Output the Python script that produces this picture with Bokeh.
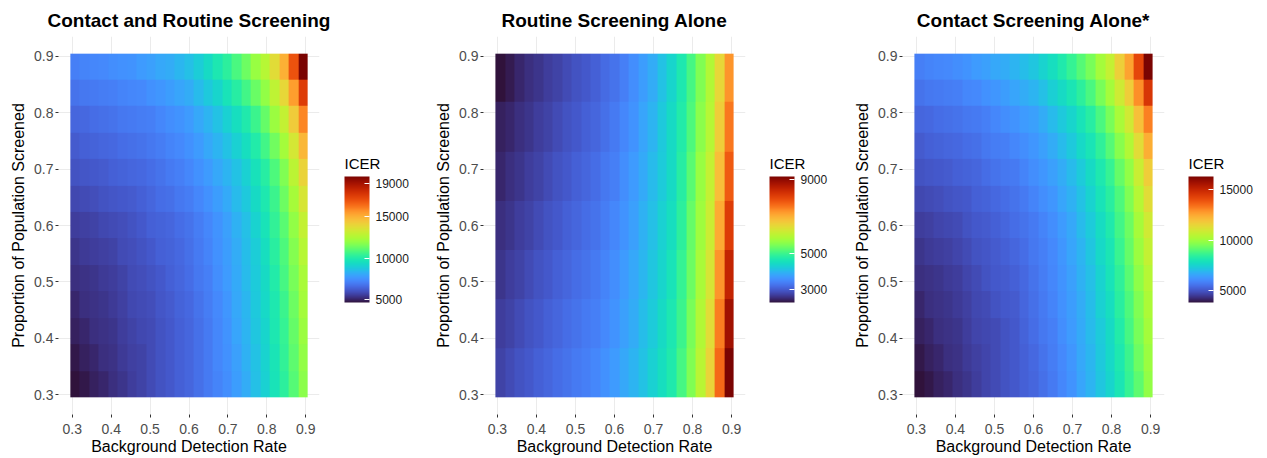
import numpy as np
from bokeh.plotting import figure
from bokeh.layouts import row
from bokeh.models import LinearColorMapper, ColorBar, FixedTicker, Range1d
from bokeh.palettes import Turbo256
from bokeh.embed import file_html
from bokeh.resources import INLINE

# ---- data ----
# background detection rate: 0.300, 0.325, ... 0.900 (25 columns)
detection_rate = [0.300, 0.325, 0.350, 0.375, 0.400, 0.425, 0.450, 0.475, 0.500, 0.525, 0.550, 0.575,
                  0.600, 0.625, 0.650, 0.675, 0.700, 0.725, 0.750, 0.775, 0.800, 0.825, 0.850, 0.875, 0.900]
prop_screened_fine = [0.30, 0.35, 0.40, 0.45, 0.50, 0.55, 0.60, 0.65, 0.70, 0.75, 0.80, 0.85, 0.90]
prop_screened_coarse = [0.3, 0.4, 0.5, 0.6, 0.7, 0.8, 0.9]
axis_ticks = [0.3, 0.4, 0.5, 0.6, 0.7, 0.8, 0.9]

titles = ["Contact and Routine Screening", "Routine Screening Alone", "Contact Screening Alone*"]
legend_title = "ICER"

# ICER values; one list per proportion screened (lowest first)
icer_contact_routine = [
    [4600, 4750, 4910, 5060, 5210, 5370, 5520, 5670, 5820, 5980, 6130, 6280, 6440, 6670, 6900, 7120, 7350, 7740, 8120, 8580, 9040, 9650, 10260, 10950, 11790],
    [4750, 4910, 5060, 5210, 5290, 5440, 5590, 5670, 5820, 5980, 6130, 6280, 6440, 6670, 6900, 7200, 7430, 7810, 8200, 8650, 9110, 9730, 10340, 11100, 11940],
    [4910, 5060, 5210, 5290, 5370, 5520, 5670, 5750, 5820, 5980, 6130, 6280, 6440, 6670, 6900, 7200, 7510, 7890, 8270, 8730, 9190, 9800, 10410, 11180, 12100],
    [5060, 5210, 5290, 5370, 5440, 5590, 5750, 5820, 5900, 6050, 6210, 6360, 6510, 6740, 6970, 7280, 7580, 7970, 8350, 8810, 9270, 9880, 10570, 11330, 12250],
    [5210, 5290, 5370, 5440, 5520, 5670, 5820, 5900, 5980, 6130, 6280, 6440, 6590, 6820, 7050, 7350, 7660, 8040, 8430, 8880, 9340, 10030, 10720, 11490, 12400],
    [5370, 5440, 5520, 5590, 5670, 5820, 5900, 5980, 6130, 6280, 6360, 6510, 6670, 6900, 7120, 7430, 7740, 8120, 8500, 8960, 9500, 10180, 10870, 11710, 12710],
    [5520, 5590, 5670, 5750, 5820, 5900, 5980, 6130, 6280, 6360, 6440, 6590, 6740, 6970, 7200, 7510, 7810, 8200, 8580, 9110, 9650, 10340, 11030, 11940, 13020],
    [5750, 5820, 5900, 5980, 6050, 6130, 6210, 6280, 6440, 6590, 6670, 6820, 6970, 7200, 7430, 7740, 8040, 8430, 8810, 9340, 9880, 10570, 11330, 12330, 13470],
    [5980, 6050, 6130, 6210, 6280, 6360, 6440, 6510, 6590, 6740, 6900, 7050, 7200, 7430, 7660, 7970, 8270, 8650, 9040, 9570, 10110, 10870, 11640, 12790, 14090],
    [6210, 6280, 6360, 6440, 6510, 6590, 6670, 6740, 6820, 6970, 7120, 7280, 7430, 7660, 7970, 8270, 8650, 9040, 9500, 10030, 10640, 11410, 12250, 13400, 14850],
    [6440, 6510, 6590, 6670, 6740, 6820, 6900, 6970, 7050, 7200, 7350, 7510, 7660, 7970, 8270, 8650, 9040, 9500, 9960, 10570, 11180, 12100, 13020, 14320, 15920],
    [6740, 6820, 6900, 6970, 7050, 7120, 7200, 7280, 7430, 7580, 7740, 7890, 8120, 8430, 8810, 9190, 9650, 10110, 10640, 11260, 11940, 12860, 13930, 15460, 17610],
    [7050, 7120, 7200, 7280, 7350, 7430, 7510, 7660, 7810, 7970, 8120, 8350, 8580, 8960, 9340, 9800, 10260, 10800, 11330, 12020, 12710, 13780, 15000, 16990, 19900],
]
icer_routine = [
    [2780, 2850, 2920, 2990, 3060, 3130, 3190, 3260, 3330, 3400, 3470, 3570, 3680, 3810, 3950, 4120, 4300, 4500, 4710, 5050, 5460, 5980, 6570, 7670, 9180],
    [2710, 2780, 2850, 2920, 2990, 3060, 3130, 3190, 3260, 3330, 3400, 3500, 3610, 3740, 3880, 4050, 4230, 4430, 4640, 4980, 5400, 5880, 6430, 7460, 8840],
    [2640, 2710, 2780, 2850, 2920, 2990, 3060, 3130, 3190, 3260, 3330, 3440, 3540, 3680, 3810, 3990, 4160, 4360, 4570, 4910, 5330, 5810, 6290, 7250, 8490],
    [2580, 2640, 2710, 2780, 2850, 2920, 2990, 3060, 3130, 3190, 3260, 3370, 3470, 3610, 3740, 3920, 4090, 4300, 4500, 4850, 5260, 5710, 6150, 7050, 8150],
    [2510, 2580, 2640, 2710, 2780, 2850, 2920, 2990, 3060, 3130, 3190, 3300, 3400, 3540, 3680, 3850, 4020, 4230, 4430, 4780, 5190, 5640, 6080, 6840, 7800],
    [2440, 2510, 2580, 2640, 2710, 2780, 2850, 2920, 2990, 3060, 3130, 3230, 3330, 3470, 3610, 3780, 3950, 4190, 4430, 4740, 5120, 5530, 5950, 6630, 7530],
    [2300, 2400, 2510, 2580, 2640, 2710, 2780, 2850, 2920, 2990, 3060, 3160, 3260, 3400, 3540, 3710, 3880, 4120, 4360, 4670, 5050, 5460, 5880, 6500, 7250],
]
icer_contact = [
    [3810, 3940, 4060, 4190, 4310, 4440, 4560, 4690, 4810, 4940, 5060, 5190, 5310, 5500, 5690, 5940, 6190, 6500, 6810, 7190, 7560, 8060, 8560, 9130, 9810],
    [3940, 4060, 4190, 4310, 4370, 4500, 4620, 4690, 4810, 4940, 5060, 5190, 5370, 5560, 5750, 6000, 6250, 6560, 6870, 7250, 7630, 8130, 8690, 9310, 9940],
    [4060, 4190, 4310, 4370, 4440, 4560, 4690, 4750, 4810, 4940, 5060, 5250, 5440, 5620, 5810, 6060, 6310, 6620, 6940, 7310, 7690, 8250, 8810, 9440, 10070],
    [4190, 4310, 4370, 4440, 4500, 4620, 4750, 4810, 4940, 5060, 5120, 5310, 5500, 5690, 5870, 6120, 6370, 6690, 7000, 7440, 7810, 8380, 8940, 9560, 10250],
    [4310, 4370, 4440, 4500, 4560, 4690, 4810, 4940, 5060, 5120, 5190, 5370, 5560, 5750, 5940, 6190, 6440, 6750, 7060, 7500, 7940, 8500, 9060, 9750, 10440],
    [4440, 4500, 4560, 4620, 4690, 4810, 4940, 5000, 5120, 5190, 5310, 5440, 5620, 5810, 6000, 6250, 6500, 6810, 7190, 7630, 8060, 8630, 9190, 9940, 10690],
    [4560, 4620, 4690, 4750, 4810, 4940, 5060, 5120, 5190, 5310, 5440, 5560, 5690, 5870, 6060, 6310, 6560, 6940, 7310, 7750, 8190, 8750, 9310, 10130, 10940],
    [4750, 4810, 4870, 4940, 5000, 5060, 5190, 5250, 5370, 5440, 5560, 5690, 5870, 6060, 6250, 6500, 6750, 7120, 7500, 7940, 8380, 8940, 9560, 10440, 11320],
    [4940, 5000, 5060, 5120, 5190, 5250, 5310, 5440, 5560, 5620, 5690, 5870, 6060, 6250, 6440, 6690, 6940, 7310, 7690, 8130, 8560, 9190, 9810, 10750, 11690],
    [5120, 5190, 5250, 5310, 5370, 5440, 5500, 5620, 5750, 5810, 5940, 6060, 6250, 6440, 6690, 6940, 7250, 7630, 8000, 8500, 9000, 9630, 10320, 11320, 12380],
    [5310, 5370, 5440, 5500, 5560, 5620, 5690, 5810, 5940, 6060, 6190, 6310, 6440, 6690, 6940, 7250, 7560, 7940, 8310, 8880, 9440, 10190, 10940, 12000, 13190],
    [5560, 5620, 5690, 5750, 5810, 5940, 6000, 6120, 6250, 6370, 6500, 6690, 6810, 7060, 7380, 7690, 8060, 8440, 8880, 9440, 10070, 10880, 11690, 12940, 14570],
    [5810, 5870, 5940, 6000, 6060, 6190, 6310, 6440, 6560, 6690, 6810, 7000, 7190, 7500, 7810, 8190, 8560, 9000, 9440, 10070, 10690, 11630, 12570, 14190, 16320],
]
colorbar_ticks = [
    [5000, 10000, 15000, 19000],
    [3000, 5000, 9000],
    [5000, 10000, 15000],
]

FONT = "Liberation Sans"
layout_cfg = [  # (min_border_left, frame_width, min_border_right, bar_gap)
    (58, 261, 105, 25),
    (59, 262, 96, 24),
    (61, 262, 94, 24),
]
FRAME_H = 378
BAR_BOTTOM = 112  # px above the panel's bottom edge
BAR_H = 126

def make_panel(title, grid, ys, cticks, cfg):
    left, fw, right, gap = cfg
    z = np.array(grid, dtype=float)
    x0 = detection_rate[0] - 0.005
    x1 = detection_rate[-1] + 0.005
    y0 = ys[0] - 0.005
    y1 = ys[-1] + 0.005
    pad = (x1 - x0) * 0.05
    p = figure(frame_width=fw, frame_height=FRAME_H,
               min_border_left=left, min_border_right=right,
               min_border_top=36, min_border_bottom=38,
               x_range=Range1d(x0 - pad, x1 + pad), y_range=Range1d(y0 - pad, y1 + pad),
               output_backend="svg", toolbar_location=None, title=title)
    mapper = LinearColorMapper(palette=Turbo256, low=float(z.min()), high=float(z.max()))
    p.image(image=[z], x=x0, y=y0, dw=x1 - x0, dh=y1 - y0, color_mapper=mapper)

    p.title.text_font = FONT
    p.title.text_font_size = "19px"
    p.title.text_font_style = "bold"
    p.title.align = "center"
    p.title.text_color = "black"
    p.title.standoff = 12

    p.xaxis.axis_label = "Background Detection Rate"
    p.yaxis.axis_label = "Proportion of Population Screened"
    for ax in (p.xaxis, p.yaxis):
        ax.ticker = FixedTicker(ticks=axis_ticks)
        ax.axis_line_color = None
        ax.major_tick_line_color = "#333333"
        ax.major_tick_out = 3
        ax.major_tick_in = 0
        ax.minor_tick_line_color = None
        ax.major_label_text_font = FONT
        ax.major_label_text_font_size = "14px"
        ax.major_label_text_color = "#4D4D4D"
        ax.axis_label_text_font = FONT
        ax.axis_label_text_font_size = "16px"
        ax.axis_label_text_font_style = "normal"
        ax.axis_label_text_color = "black"
    p.xaxis.major_label_standoff = 6
    p.xaxis.axis_label_standoff = 1
    p.yaxis.major_label_standoff = 2
    p.yaxis.axis_label_standoff = 4
    p.grid.grid_line_color = "#EBEBEB"
    p.grid.grid_line_width = 1
    p.outline_line_color = None
    p.background_fill_color = "white"
    p.border_fill_color = "white"

    cb = ColorBar(color_mapper=mapper, ticker=FixedTicker(ticks=cticks),
                  width=25, height=BAR_H, title=None,
                  major_label_text_font=FONT, major_label_text_font_size="12px",
                  major_label_text_color="#1a1a1a", label_standoff=6,
                  major_tick_line_color="white", major_tick_in=5, major_tick_out=0,
                  minor_tick_line_color=None, bar_line_color=None,
                  border_line_color=None, background_fill_color=None,
                  padding=0, margin=0, location=(gap, BAR_BOTTOM))
    p.add_layout(cb, "right")

    # legend title, drawn horizontally above the bar (carrier bar is invisible)
    tcb = ColorBar(color_mapper=mapper, ticker=FixedTicker(ticks=[]), orientation="horizontal",
                   width=30, height=1, scale_alpha=0.0, title=legend_title,
                   title_text_font=FONT, title_text_font_size="15px",
                   title_text_font_style="normal", title_text_color="black", title_standoff=0,
                   major_label_text_alpha=0.0, major_tick_line_color=None,
                   minor_tick_line_color=None, bar_line_color=None,
                   border_line_color=None, background_fill_color=None,
                   padding=0, margin=0, location=(fw + gap, BAR_BOTTOM + BAR_H + 4))
    p.add_layout(tcb, "center")
    return p

panels = [make_panel(t, g, ys, c, cfg) for t, g, ys, c, cfg in
          zip(titles, [icer_contact_routine, icer_routine, icer_contact],
              [prop_screened_fine, prop_screened_coarse, prop_screened_fine],
              colorbar_ticks, layout_cfg)]
layout = row(*panels, spacing=0)
open("out.html", "w").write(file_html(layout, INLINE))
